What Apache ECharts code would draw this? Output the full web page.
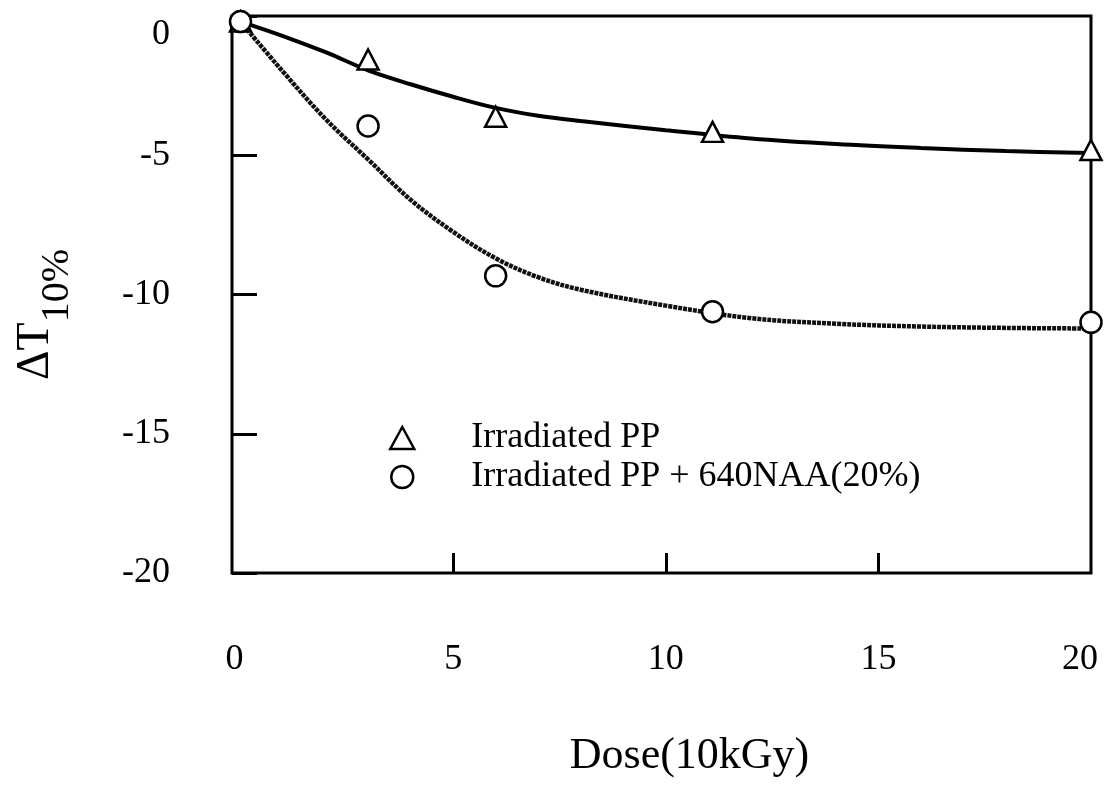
<!DOCTYPE html>
<html>
<head>
<meta charset="utf-8">
<script src="https://cdn.jsdelivr.net/npm/echarts@6/dist/echarts.min.js"></script>
<style>
  html, body { margin: 0; padding: 0; background: #fff; }
  #chart { width: 1105px; height: 785px; }
</style>
</head>
<body>
<div id="chart"></div>
<script>
// Measured points
const doses = [0, 3, 6, 11.1, 20];
const ppValues = [-0.2, -1.56, -3.62, -4.16, -4.81];
const naaValues = [-0.2, -3.95, -9.33, -10.62, -11.0];

// Fitted trend curves
const fitDoses = [0, 1, 2, 3, 4, 5, 6, 7, 8, 10, 12, 14, 16, 18, 20];
const ppFit = [-0.2, -0.72, -1.3, -1.95, -2.45, -2.9, -3.3, -3.58, -3.77, -4.1, -4.4, -4.6, -4.74, -4.85, -4.92];
const naaFit = [-0.2, -2.0, -3.7, -5.15, -6.6, -7.75, -8.7, -9.38, -9.83, -10.4, -10.85, -11.05, -11.15, -11.2, -11.22];

// Axis ticks and labels
const xLabelValues = [0, 5, 10, 15, 20];
const xTickValues = [5, 10, 15];
const yTickValues = [0, -5, -10, -15, -20];

const seriesNames = ['Irradiated PP', 'Irradiated PP + 640NAA(20%)'];

const serif = "'Liberation Serif', 'Times New Roman', 'DejaVu Serif', serif";
const pairs = (xs, ys) => xs.map((x, i) => [x, ys[i]]);

const chart = echarts.init(document.getElementById('chart'));
chart.setOption({
  animation: false,
  backgroundColor: '#fff',
  grid: {
    left: 232, right: 14, top: 16, bottom: 212,
    outerBoundsMode: 'none', containLabel: false,
    show: true, borderColor: '#000', borderWidth: 3, backgroundColor: 'transparent'
  },
  legend: {
    data: seriesNames,
    orient: 'vertical',
    left: 384, top: 415,
    itemWidth: 24, itemHeight: 22, itemGap: 3,
    textStyle: { fontFamily: serif, fontSize: 36, color: '#000', padding: [0, 0, 0, 52] },
    itemStyle: { borderWidth: 2.5 }
  },
  xAxis: {
    type: 'value', min: -0.2, max: 20,
    name: 'Dose(10kGy)', nameLocation: 'middle', nameGap: 161,
    nameTextStyle: { fontFamily: serif, fontSize: 44, color: '#000', padding: [0, 0, 0, 56] },
    axisLine: { show: false, onZero: false },
    axisTick: { show: true, inside: true, length: 20, customValues: xTickValues,
      lineStyle: { color: '#000', width: 3 } },
    axisLabel: {
      customValues: xLabelValues, margin: 69,
      fontFamily: serif, fontSize: 36, color: '#000',
      formatter: v => (v === 0 ? '{s|0}' : v === 20 ? '{e|20}' : String(v)),
      rich: {
        s: { fontFamily: serif, fontSize: 36, color: '#000', padding: [0, 12, 0, 0] },
        e: { fontFamily: serif, fontSize: 36, color: '#000', padding: [0, 22, 0, 0] }
      }
    },
    splitLine: { show: false }
  },
  yAxis: {
    type: 'value', min: -20, max: 0, interval: 5,
    name: '{a|ΔT}{b|10%}', nameLocation: 'middle', nameGap: 169,
    nameTextStyle: {
      fontFamily: serif, color: '#000',
      rich: {
        a: { fontFamily: serif, fontSize: 46, lineHeight: 50, verticalAlign: 'top' },
        b: { fontFamily: serif, fontSize: 40, lineHeight: 34, padding: [24, 40, 0, 0], verticalAlign: 'top' }
      }
    },
    axisLine: { show: false, onZero: false },
    axisTick: { show: true, inside: true, length: 25, customValues: yTickValues,
      lineStyle: { color: '#000', width: 3 } },
    axisLabel: {
      customValues: yTickValues, margin: 62,
      fontFamily: serif, fontSize: 36, color: '#000',
      formatter: v => (v === 0 ? '{z|0}' : String(v)),
      rich: { z: { fontFamily: serif, fontSize: 36, color: '#000', padding: [38, 0, 0, 0] } }
    },
    splitLine: { show: false }
  },
  series: [
    {
      name: 'fit-pp', type: 'line', data: pairs(fitDoses, ppFit),
      smooth: 0.35, showSymbol: false, symbol: 'none', silent: true, z: 2,
      lineStyle: { color: '#000', width: 4 }
    },
    {
      name: 'fit-naa', type: 'line', data: pairs(fitDoses, naaFit),
      smooth: 0.35, showSymbol: false, symbol: 'none', silent: true, z: 2,
      lineStyle: { color: '#111', width: 4.5, type: [4, 1] }
    },
    {
      name: seriesNames[0], type: 'scatter', data: pairs(doses, ppValues),
      symbol: 'triangle', symbolSize: [21, 20], z: 5,
      itemStyle: { color: '#fff', borderColor: '#000', borderWidth: 2.5, opacity: 1 }
    },
    {
      name: seriesNames[1], type: 'scatter', data: pairs(doses, naaValues),
      symbol: 'circle', symbolSize: 21, z: 5,
      itemStyle: { color: '#fff', borderColor: '#000', borderWidth: 2.5, opacity: 1 }
    }
  ]
});
</script>
</body>
</html>
